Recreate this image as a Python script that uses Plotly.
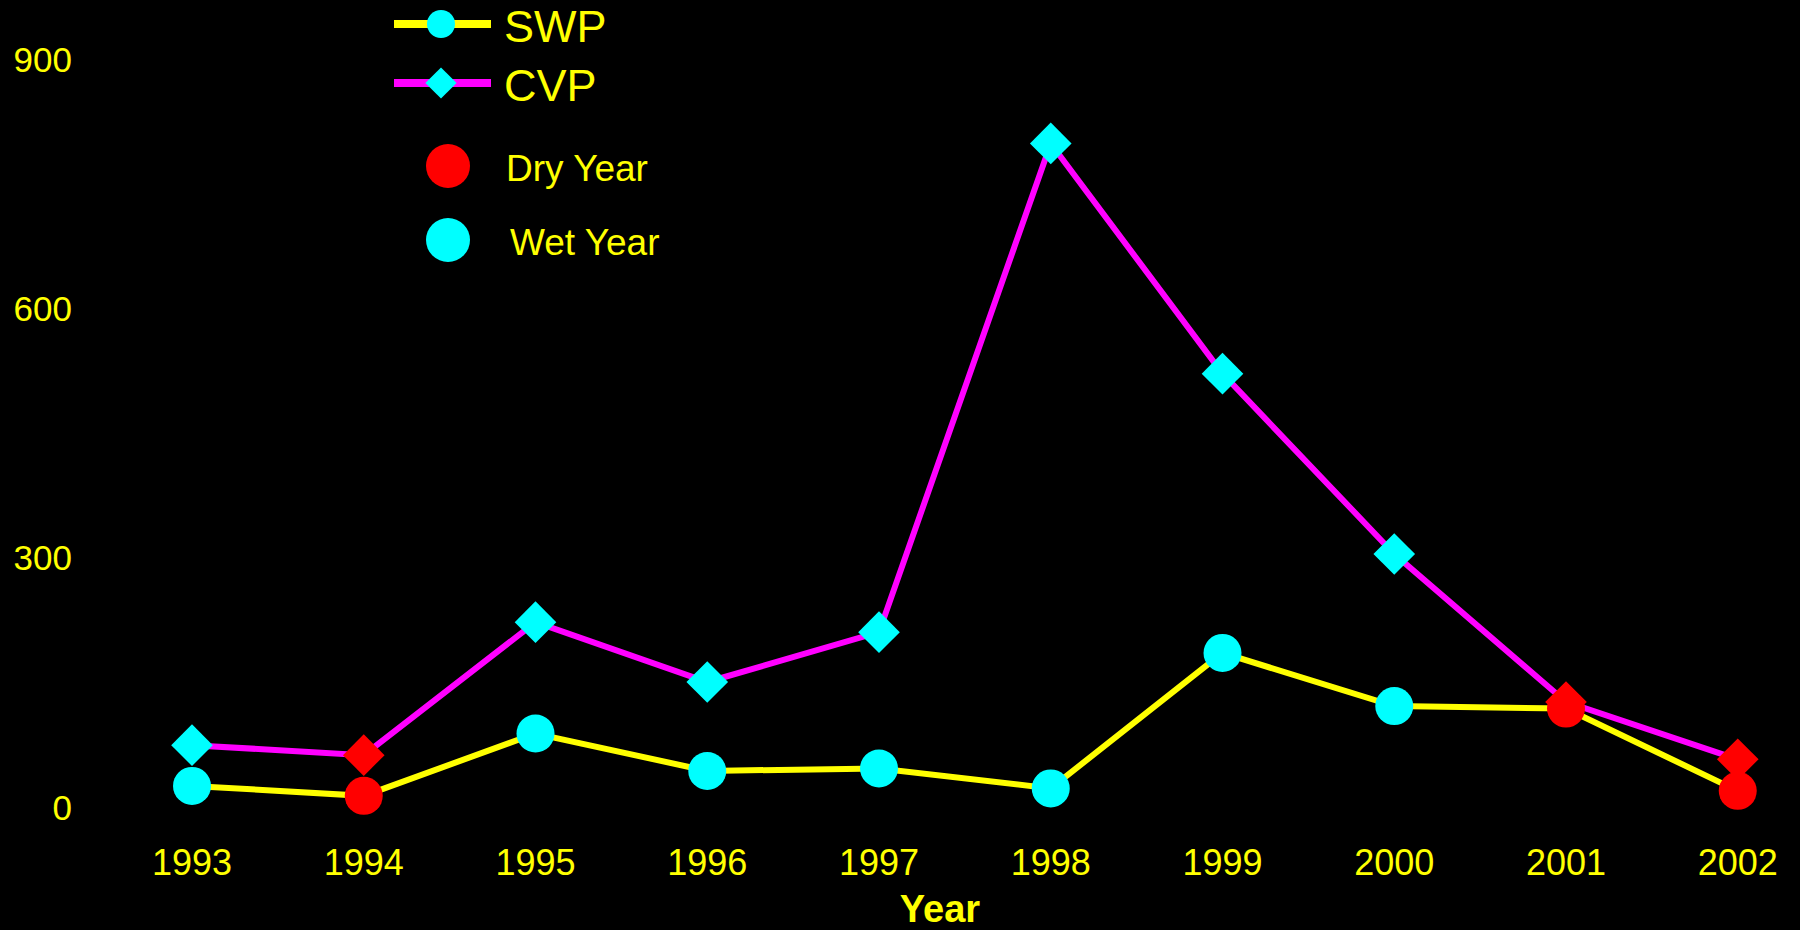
import plotly.graph_objects as go

years = [1993, 1994, 1995, 1996, 1997, 1998, 1999, 2000, 2001, 2002]
swp = [26, 14, 89, 44, 47, 23, 186, 122, 119, 20]
cvp = [75, 63, 223, 151, 211, 799, 522, 305, 127, 58]
year_type = ["Wet", "Dry", "Wet", "Wet", "Wet", "Wet", "Wet", "Wet", "Dry", "Dry"]
y_ticks = [0, 300, 600, 900]

YELLOW = "#FFFF00"
MAGENTA = "#FF00FF"
CYAN = "#00FFFF"
RED = "#FF0000"
type_color = {"Dry": RED, "Wet": CYAN}
marker_colors = [type_color[t] for t in year_type]
FONT = "Liberation Sans, Arial, sans-serif"

fig = go.Figure()

fig.add_trace(go.Scatter(
    x=years, y=cvp, mode="lines+markers", name="CVP",
    line=dict(color=MAGENTA, width=6),
    marker=dict(symbol="diamond", size=32, color=marker_colors, line=dict(width=0)),
    showlegend=False, cliponaxis=False,
))
fig.add_trace(go.Scatter(
    x=years, y=swp, mode="lines+markers", name="SWP",
    line=dict(color=YELLOW, width=6),
    marker=dict(symbol="circle", size=38, color=marker_colors, line=dict(width=0)),
    showlegend=False, cliponaxis=False,
))

# ---- hand-made legend on a helper pixel-like axis (layout, not data) ----
leg_line_x = [394, 491]
leg_rows = [
    dict(kind="line", label="SWP", y=24, color=YELLOW, symbol="circle", msize=28, mcolor=CYAN, fsize=45, tx=502),
    dict(kind="line", label="CVP", y=83, color=MAGENTA, symbol="diamond", msize=24, mcolor=CYAN, fsize=45, tx=502),
    dict(kind="dot", label="Dry Year", y=166, symbol="circle", msize=44, mcolor=RED, fsize=37, tx=504),
    dict(kind="dot", label="Wet Year", y=240, symbol="circle", msize=44, mcolor=CYAN, fsize=37, tx=508),
]
annotations = []
for r in leg_rows:
    if r["kind"] == "line":
        fig.add_trace(go.Scatter(
            x=leg_line_x, y=[r["y"], r["y"]], mode="lines", xaxis="x2", yaxis="y2",
            line=dict(color=r["color"], width=8), showlegend=False, hoverinfo="skip",
            cliponaxis=False))
        mx = 441
    else:
        mx = 448
    fig.add_trace(go.Scatter(
        x=[mx], y=[r["y"]], mode="markers", xaxis="x2", yaxis="y2",
        marker=dict(symbol=r["symbol"], size=r["msize"], color=r["mcolor"], line=dict(width=0)),
        showlegend=False, hoverinfo="skip", cliponaxis=False))
    annotations.append(dict(
        x=r["tx"], y=r["y"] + 2, xref="x2", yref="y2", text=r["label"], showarrow=False,
        xanchor="left", yanchor="middle", font=dict(family=FONT, size=r["fsize"], color=YELLOW)))

fig.update_layout(
    width=1800, height=930,
    paper_bgcolor="black", plot_bgcolor="black",
    margin=dict(l=100, r=20, t=20, b=92),
    showlegend=False,
    font=dict(family=FONT, color=YELLOW),
    xaxis=dict(
        range=[1992.4643, 2002.246], tickmode="array", tickvals=years,
        ticktext=[str(y) for y in years], automargin=False,
        showgrid=False, zeroline=False, showline=False, ticks="",
        tickfont=dict(family=FONT, size=36, color=YELLOW),
        title=dict(text="<b>Year</b>", font=dict(family=FONT, size=38, color=YELLOW), standoff=22),
    ),
    yaxis=dict(
        range=[-36.7, 947.5], tickmode="array", tickvals=y_ticks, automargin=False,
        showgrid=False, zeroline=False, showline=False, ticks="",
        ticklabelstandoff=27,
        tickfont=dict(family=FONT, size=35, color=YELLOW),
    ),
    xaxis2=dict(range=[100, 1780], overlaying="x", anchor="y2", visible=False, fixedrange=True),
    yaxis2=dict(range=[838, 20], overlaying="y", anchor="x2", visible=False, fixedrange=True),
    annotations=annotations,
)

fig.write_html(
    "out.html",
    config={"displayModeBar": False},
    post_script=(
        "document.body.style.margin='0';"
        "document.body.style.background='black';"
        "document.body.style.overflow='hidden';"
    ),
)
